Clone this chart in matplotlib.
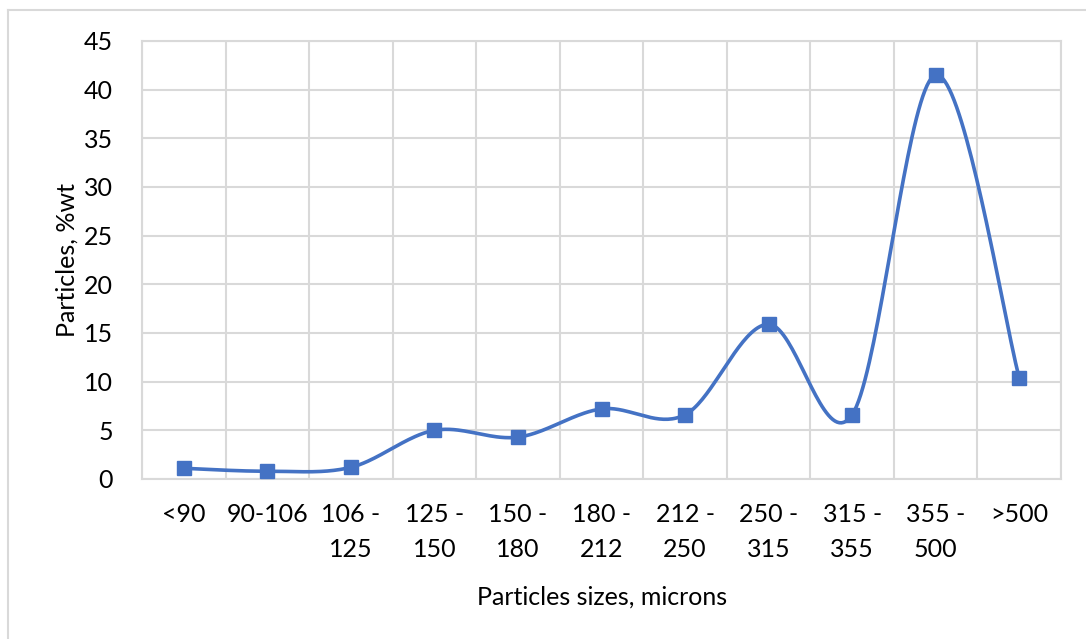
import numpy as np
import matplotlib.pyplot as plt
from matplotlib.lines import Line2D

# particle size distribution (sieve fractions)
sizes = ['<90', '90-106', '106 -\n125', '125 -\n150', '150 -\n180', '180 -\n212',
         '212 -\n250', '250 -\n315', '315 -\n355', '355 -\n500', '>500']
wt_pct = [1.1, 0.8, 1.2, 5.0, 4.3, 7.2, 6.6, 15.9, 6.6, 41.5, 10.4]

blue = '#4472C4'
grid = '#D9D9D9'

plt.rcParams['font.family'] = ['Lato', 'DejaVu Sans']


def smooth(x, y, n=40):
    # Catmull-Rom style bezier through the points, like spreadsheet "smoothed line"
    x = np.asarray(x, float)
    y = np.asarray(y, float)
    px = np.concatenate([[x[0]], x, [x[-1]]])
    py = np.concatenate([[y[0]], y, [y[-1]]])
    xs, ys = [], []
    t = np.linspace(0, 1, n)
    for i in range(1, len(px) - 2):
        p0 = np.array([px[i], py[i]])
        p3 = np.array([px[i + 1], py[i + 1]])
        p1 = p0 + (np.array([px[i + 1], py[i + 1]]) - np.array([px[i - 1], py[i - 1]])) / 6
        p2 = p3 - (np.array([px[i + 2], py[i + 2]]) - np.array([px[i], py[i]])) / 6
        b = ((1 - t) ** 3)[:, None] * p0 + (3 * (1 - t) ** 2 * t)[:, None] * p1 \
            + (3 * (1 - t) * t ** 2)[:, None] * p2 + (t ** 3)[:, None] * p3
        xs.extend(b[:, 0])
        ys.extend(b[:, 1])
    return np.array(xs), np.array(ys)


fig = plt.figure(figsize=(10.86, 6.39), dpi=100)
ax = fig.add_axes([142 / 1086, 1 - 479 / 639, 919 / 1086, 438 / 639])

pos = np.arange(len(sizes))
sx, sy = smooth(pos, wt_pct)
ax.plot(sx, sy, color=blue, lw=2.6, zorder=3)
ax.plot(pos, wt_pct, ls='none', marker='s', ms=10.5, color=blue, zorder=4)

ax.set_xlim(-0.5, len(sizes) - 0.5)
ax.set_ylim(0, 45)
ax.set_yticks(range(0, 46, 5))
ax.set_xticks(pos)
ax.set_xticklabels(sizes, fontsize=18, linespacing=1.65, va='top')
ax.set_xticks(np.arange(-0.5, len(sizes), 1), minor=True)
ax.tick_params(axis='both', which='both', length=0, labelsize=18)
ax.tick_params(axis='x', pad=17)
ax.tick_params(axis='y', pad=21)
ax.grid(True, axis='y', color=grid, lw=1.5)
ax.grid(True, axis='x', which='minor', color=grid, lw=1.5)
for s in ax.spines.values():
    s.set_color(grid)
    s.set_linewidth(1.5)
ax.set_axisbelow(True)

ax.set_ylabel('Particles, %wt', fontsize=18, labelpad=4)
fig.text(602 / 1086, 1 - 597 / 639, 'Particles sizes, microns', fontsize=18,
         ha='center', va='center')

# chart area border
fig.add_artist(Line2D([8 / 1086, 1.0], [1 - 10 / 639] * 2, color=grid, lw=1.5))
fig.add_artist(Line2D([8 / 1086] * 2, [0, 1 - 10 / 639], color=grid, lw=1.5))

fig.savefig('out.png', dpi=100)
